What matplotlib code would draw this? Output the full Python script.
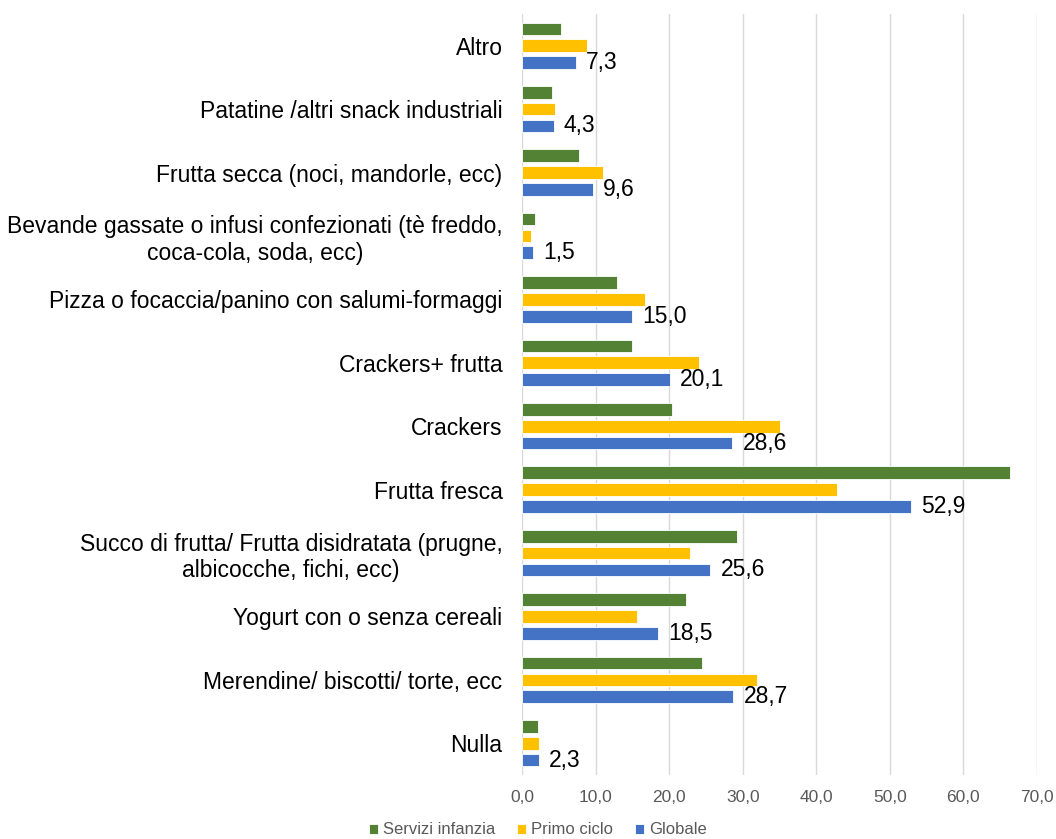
import matplotlib
matplotlib.use('Agg')
import matplotlib.pyplot as plt
import numpy as np

# categories, top to bottom as in the chart
categories = [
    'Altro',
    'Patatine /altri snack industriali',
    'Frutta secca (noci, mandorle, ecc)',
    'Bevande gassate o infusi confezionati (tè freddo,\ncoca-cola, soda, ecc)',
    'Pizza o focaccia/panino con salumi-formaggi',
    'Crackers+ frutta',
    'Crackers',
    'Frutta fresca',
    'Succo di frutta/ Frutta disidratata (prugne,\nalbicocche, fichi, ecc)',
    'Yogurt con o senza cereali',
    'Merendine/ biscotti/ torte, ecc',
    'Nulla',
]
servizi_infanzia = [5.3, 4.1, 7.8, 1.8, 12.9, 14.9, 20.4, 66.3, 29.2, 22.3, 24.5, 2.2]
primo_ciclo = [8.8, 4.5, 11.0, 1.2, 16.7, 24.0, 35.0, 42.8, 22.9, 15.6, 32.0, 2.3]
globale = [7.3, 4.3, 9.6, 1.5, 15.0, 20.1, 28.6, 52.9, 25.6, 18.5, 28.7, 2.3]

series_names = ['Servizi infanzia', 'Primo ciclo', 'Globale']
colors = ['#548235', '#ffc000', '#4472c4']

plt.rcParams['font.family'] = ['Liberation Sans', 'DejaVu Sans']

fig = plt.figure(figsize=(10.56, 8.39), dpi=100)
ax = fig.add_axes([522 / 1056, 1 - 775 / 839, 515 / 1056, 761 / 839])

n = len(categories)
y = np.arange(n)[::-1].astype(float)  # first category at top
step = 0.265
height = 0.2

for i, (vals, name, col) in enumerate(zip([servizi_infanzia, primo_ciclo, globale],
                                          series_names, colors)):
    ax.barh(y + step * (1 - i), vals, height=height, color=col,
            edgecolor='white', linewidth=0.6, label=name, zorder=3)

# data labels only on the Globale series
for yy, v in zip(y, globale):
    ax.text(v + 1.4, yy - step, f'{v:.1f}'.replace('.', ','),
            va='center', ha='left', fontsize=16.5, color='#000000', zorder=4)

ax.set_xlim(0, 70)
ax.set_ylim(-0.5, n - 0.5)
ax.set_xticks(np.arange(0, 71, 10))
ax.set_xticklabels([f'{t:.1f}'.replace('.', ',') for t in np.arange(0, 71, 10)],
                   fontsize=12.5, color='#595959')
ax.set_yticks(y)
ax.set_yticklabels(categories, fontsize=16.5, color='#000000',
                   multialignment='center')
ax.tick_params(axis='both', length=0)
ax.tick_params(axis='x', pad=11)
ax.tick_params(axis='y', pad=14)

ax.grid(axis='x', color='#d9d9d9', linewidth=1, zorder=0)
for s in ax.spines.values():
    s.set_visible(False)

fig.legend(loc='center', bbox_to_anchor=(538 / 1056, 1 - 830 / 839), ncol=3,
           frameon=False, fontsize=12, handlelength=0.55, handleheight=0.55,
           handletextpad=0.3, columnspacing=1.3, labelcolor='#595959')

fig.savefig('out.png', dpi=100)
